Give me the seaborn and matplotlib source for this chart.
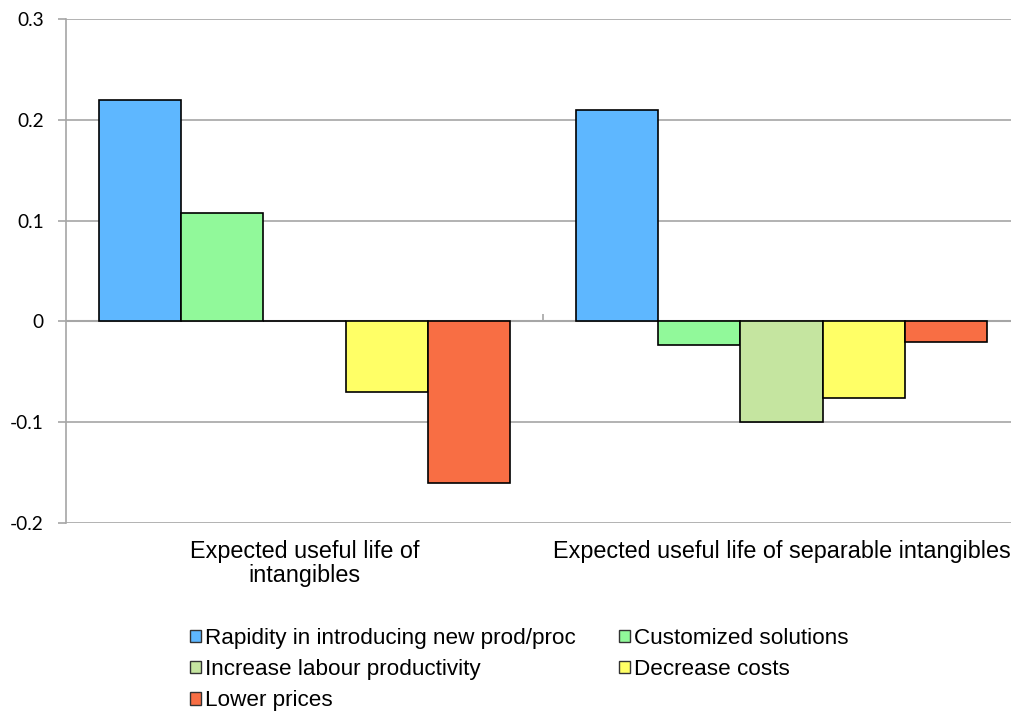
import matplotlib
matplotlib.use("Agg")
import matplotlib.pyplot as plt
from matplotlib.patches import Patch
import pandas as pd
import seaborn as sns

categories = ["Expected useful life of\nintangibles",
              "Expected useful life of separable intangibles"]
series = ["Rapidity in introducing new prod/proc", "Customized solutions",
          "Increase labour productivity", "Decrease costs", "Lower prices"]
rapidity = [0.22, 0.21]
customized = [0.108, -0.023]
labour = [0.0, -0.1]
costs = [-0.07, -0.076]
prices = [-0.16, -0.02]
colors = ["#5EB7FF", "#91F99A", "#C5E5A0", "#FFFF66", "#F86E44"]
ytick_labels = ["-0.2", "-0.1", "0", "0.1", "0.2", "0.3"]

values = [rapidity, customized, labour, costs, prices]
df = pd.DataFrame([
    {"category": c, "series": s, "value": v}
    for s, vals in zip(series, values)
    for c, v in zip(categories, vals)
])

sns.set_theme(style="white")
plt.rcParams["font.family"] = ["Liberation Sans", "DejaVu Sans"]
plt.rcParams["text.color"] = "black"

fig = plt.figure(figsize=(10.11, 7.11), dpi=100)
ax = fig.add_axes([66 / 1011, 1 - 523 / 711, 954 / 1011, 504 / 711])

sns.barplot(data=df, x="category", y="value", hue="series",
            order=categories, hue_order=series, palette=colors, saturation=1,
            width=0.862, gap=0, edgecolor="black", linewidth=1.2,
            errorbar=None, legend=False, ax=ax, zorder=3)

ax.set_ylim(-0.2, 0.3)
ax.set_xlim(-0.5, 1.5)
ax.set_yticks([float(t) for t in ytick_labels])
ax.set_yticklabels(ytick_labels, family=["Lato", "DejaVu Sans"], fontsize=13.8)
ax.yaxis.grid(True, color="#A6A6A6", linewidth=1.2, zorder=0)
ax.set_axisbelow(True)

for side in ["top", "right", "bottom"]:
    ax.spines[side].set_visible(False)
ax.spines["left"].set_color("#A6A6A6")
ax.spines["left"].set_linewidth(1.2)

ax.tick_params(axis="y", length=6, width=1.2, color="#A6A6A6", pad=10,
               labelcolor="black", left=True)
ax.tick_params(axis="x", length=0, pad=12, labelsize=16.8, labelcolor="black")
for lab in ax.get_xticklabels():
    lab.set_linespacing(1.1)
ax.set_xlabel("")
ax.set_ylabel("")

# category axis at zero with a divider tick between the groups
ax.axhline(0, color="#A6A6A6", linewidth=1.5, zorder=2)
ax.vlines(0.5, 0, 0.007, color="#A6A6A6", linewidth=1.2, zorder=2)

# legend filled row by row: two entries per row
order = [0, 2, 4, 1, 3]
handles = [Patch(facecolor=colors[i], edgecolor="#333333", linewidth=1.0) for i in order]
labels = [series[i] for i in order]
fig.legend(handles, labels, loc="upper left", bbox_to_anchor=(181 / 1011, 1 - 619 / 711),
           ncol=2, frameon=False, fontsize=16.2, labelcolor="black",
           handlelength=0.48, handleheight=0.48,
           handletextpad=0.2, columnspacing=1.9, labelspacing=0.45, borderaxespad=0)

fig.savefig("out.png", dpi=100, facecolor="white")
